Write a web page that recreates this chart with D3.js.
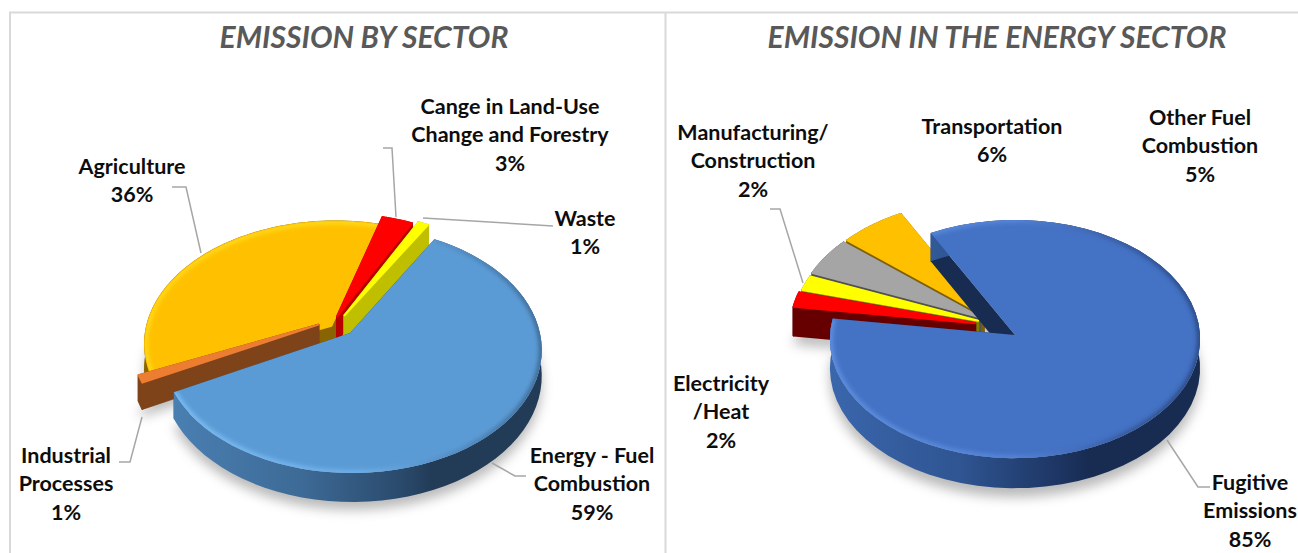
<!DOCTYPE html>
<html>
<head>
<meta charset="utf-8">
<script src="https://cdn.jsdelivr.net/npm/d3@7"></script>
<style>
  html, body { margin: 0; padding: 0; background: #fff; overflow: hidden; }
  text { font-family: Lato, "Open Sans", sans-serif; }
</style>
</head>
<body>
<script>
// left chart data
const sectorNames = ["Energy - Fuel Combustion", "Industrial Processes", "Agriculture", "Cange in Land-Use Change and Forestry", "Waste"];
const sectorValues = [59, 1, 36, 3, 1];
const sectorLabelLines = [["Energy - Fuel", "Combustion"], ["Industrial", "Processes"], ["Agriculture"], ["Cange in Land-Use", "Change and Forestry"], ["Waste"]];

// right chart data
const energyNames = ["Fugitive Emissions", "Electricity /Heat", "Manufacturing/ Construction", "Other Fuel Combustion", "Transportation"];
const energyValues = [85, 2, 2, 5, 6];
const energyLabelLines = [["Fugitive", "Emissions"], ["Electricity", "/Heat"], ["Manufacturing/", "Construction"], ["Other Fuel", "Combustion"], ["Transportation"]];

const titles = ["EMISSION BY SECTOR", "EMISSION IN THE ENERGY SECTOR"];

const width = 1298, height = 553;

const svg = d3.select("body").append("svg")
  .attr("width", width)
  .attr("height", height)
  .style("display", "block");

const defs = svg.append("defs");
const blur = (id, s) => defs.append("filter").attr("id", id)
  .attr("filterUnits", "userSpaceOnUse")
  .attr("x", 0).attr("y", 0).attr("width", width).attr("height", height)
  .append("feGaussianBlur").attr("stdDeviation", s);
blur("soft", 6);
blur("bevel", 2);

function gradient(id, stops) {
  const g = defs.append("linearGradient").attr("id", id)
    .attr("x1", "0").attr("x2", "1").attr("y1", "0").attr("y2", "0");
  stops.forEach(s => g.append("stop").attr("offset", s[0]).attr("stop-color", s[1]));
}
gradient("wallLeft", [[0, "#4a7fb2"], [0.35, "#3d6a96"], [0.62, "#2a4a6c"], [0.7, "#223c58"], [1, "#223c58"]]);
gradient("wallRight", [[0, "#3a66ac"], [0.35, "#2f5592"], [0.62, "#1d3563"], [0.7, "#182c52"], [1, "#182c52"]]);
gradient("rimLeft", [[0, "#7cbdf5"], [0.5, "#6fb0ea"], [0.8, "#4f86ba"], [1, "#3d6a96"]]);
gradient("rimRight", [[0, "#5f8fe0"], [0.5, "#5684d8"], [0.8, "#35599c"], [1, "#2b4a85"]]);

// frame lines
svg.append("path")
  .attr("d", "M10,553V12.5H1298M665.5,12.5V553")
  .attr("fill", "none").attr("stroke", "#d9d9d9").attr("stroke-width", 2);

const line = d3.line();
let clipCount = 0;

function drawPie(cfg, names, values) {
  // perspective mapping of the pie disc onto the page
  const project = (u, v, z = 0) => {
    const w = 1 - cfg.k * v - cfg.j * u;
    return [cfg.cx + cfg.rx * u / w, cfg.cy + (cfg.ry * v + z * cfg.depth) / w];
  };
  const pie = d3.pie().sort(null)
    .startAngle(cfg.start)
    .endAngle(cfg.start + 2 * Math.PI);
  const arcs = pie(values);

  const g = svg.append("g");

  const rim = (a, off, z) => d3.range(0, 61).map(i => {
    const t = a.startAngle + (a.endAngle - a.startAngle) * i / 60;
    return project(off[0] + Math.sin(t), off[1] - Math.cos(t), z);
  });

  // soft shadow below every slice
  const shadows = g.append("g").attr("filter", "url(#soft)").attr("opacity", 0.6);
  cfg.order.forEach(i => {
    const off = cfg.slices[i].off;
    const pts = [project(off[0], off[1], 1)].concat(rim(arcs[i], off, 1));
    shadows.append("path")
      .attr("d", line(pts.map(p => [p[0], p[1] + cfg.shadow])) + "Z")
      .attr("fill", "#8c8c8c");
  });

  cfg.order.forEach(i => {
    const a = arcs[i], st = cfg.slices[i], off = st.off;
    const apex = project(off[0], off[1]);
    const apexB = project(off[0], off[1], 1);
    const top = rim(a, off, 0), bottom = rim(a, off, 1);
    const first = top[0], firstB = bottom[0], last = top[60], lastB = bottom[60];
    const round = i === 0 ? 0 : 2; // small slices have soft corners

    const wallPath = (d, fill) => g.append("path").attr("d", d).attr("fill", fill)
      .attr("stroke", round ? fill : "none").attr("stroke-width", round).attr("stroke-linejoin", "round");

    wallPath(line([apex, first, firstB, apexB]) + "Z", st.edge);
    wallPath(line([apex, last, lastB, apexB]) + "Z", st.edge);
    wallPath(line(top.concat(bottom.slice().reverse())) + "Z", st.wall || st.edge);

    const face = line([apex].concat(top)) + "Z";
    wallPath(face, st.fill).attr("class", "slice")
      .append("title").text(names[i] + ": " + values[i] + "%");

    // bevel along the outer rim
    if (st.rim) {
      const id = "clip" + (clipCount++);
      defs.append("clipPath").attr("id", id).append("path").attr("d", face);
      g.append("g").attr("clip-path", "url(#" + id + ")")
        .append("path").attr("d", line(top))
        .attr("fill", "none").attr("stroke", st.rim).attr("stroke-width", 6)
        .attr("filter", "url(#bevel)");
    }
  });
}

const deg = Math.PI / 180;

drawPie({
  cx: 350, cy: 333, rx: 188, ry: 120.7, k: 0.138, j: 0.01, depth: 25, shadow: 8,
  start: 30 * deg,
  order: [2, 3, 4, 1, 0],
  slices: [
    {off: [0, 0], fill: "#5b9bd5", edge: "#223c58", wall: "url(#wallLeft)", rim: "url(#rimLeft)"},
    {off: [-0.17, -0.07], fill: "#ed7d31", edge: "#7f431a"},
    {off: [-0.1, -0.06], fill: "#ffc000", edge: "#8a6400", rim: "#ffd91a"},
    {off: [-0.07, -0.14], fill: "#ff0000", edge: "#b80000"},
    {off: [-0.03, -0.15], fill: "#ffff00", edge: "#bfbf00"}
  ]
}, sectorNames, sectorValues);

drawPie({
  cx: 1015, cy: 335, rx: 185, ry: 119, k: 0.034, j: 0, depth: 29, shadow: 9,
  start: 332 * deg,
  order: [4, 3, 2, 1, 0],
  slices: [
    {off: [0, 0], fill: "#4472c4", edge: "#182c52", wall: "url(#wallRight)", rim: "url(#rimRight)"},
    {off: [-0.216, -0.1], fill: "#ff0000", edge: "#660000"},
    {off: [-0.2, -0.12], fill: "#ffff00", edge: "#7f7f00"},
    {off: [-0.19, -0.15], fill: "#a5a5a5", edge: "#525252"},
    {off: [-0.17, -0.17], fill: "#ffc000", edge: "#7f6000"}
  ]
}, energyNames, energyValues);

// leader lines
const leaders = [
  [[172, 187], [186, 187], [201, 253]],
  [[383, 148], [392, 148], [396, 217]],
  [[423, 218], [553, 226]],
  [[119, 462], [130, 462], [142, 417]],
  [[492, 463], [515, 476], [526, 476]],
  [[770, 209], [780, 209], [803, 283]],
  [[1167, 440], [1198, 487], [1210, 487]]
];
svg.append("g").selectAll("path").data(leaders).join("path")
  .attr("d", d => line(d))
  .attr("fill", "none").attr("stroke", "#a6a6a6").attr("stroke-width", 1.5);

// data labels: centre x and first line centre y
const labelSpots = [
  {lines: sectorLabelLines[0], v: sectorValues[0], x: 592, y: 455},
  {lines: sectorLabelLines[1], v: sectorValues[1], x: 66, y: 455},
  {lines: sectorLabelLines[2], v: sectorValues[2], x: 132, y: 166},
  {lines: sectorLabelLines[3], v: sectorValues[3], x: 510, y: 106},
  {lines: sectorLabelLines[4], v: sectorValues[4], x: 585, y: 218},
  {lines: energyLabelLines[0], v: energyValues[0], x: 1250, y: 482},
  {lines: energyLabelLines[1], v: energyValues[1], x: 721, y: 383},
  {lines: energyLabelLines[2], v: energyValues[2], x: 753, y: 132},
  {lines: energyLabelLines[3], v: energyValues[3], x: 1200, y: 117},
  {lines: energyLabelLines[4], v: energyValues[4], x: 992, y: 126}
];
labelSpots.forEach(l => {
  const t = svg.append("text")
    .attr("text-anchor", "middle")
    .attr("font-size", 21.5)
    .attr("font-weight", 700)
    .attr("fill", "#0d0d0d");
  l.lines.concat([l.v + "%"]).forEach((s, i) => {
    t.append("tspan").attr("x", l.x).attr("y", l.y + i * 28.6 + 7.5).text(s);
  });
});

svg.selectAll("text.title").data(titles).join("text")
  .attr("class", "title")
  .attr("x", (d, i) => i ? 997 : 364)
  .attr("y", 48)
  .attr("text-anchor", "middle")
  .attr("font-size", 30)
  .attr("font-weight", 700)
  .attr("font-style", "italic")
  .attr("fill", "#595959")
  .text(d => d);
</script>
</body>
</html>
